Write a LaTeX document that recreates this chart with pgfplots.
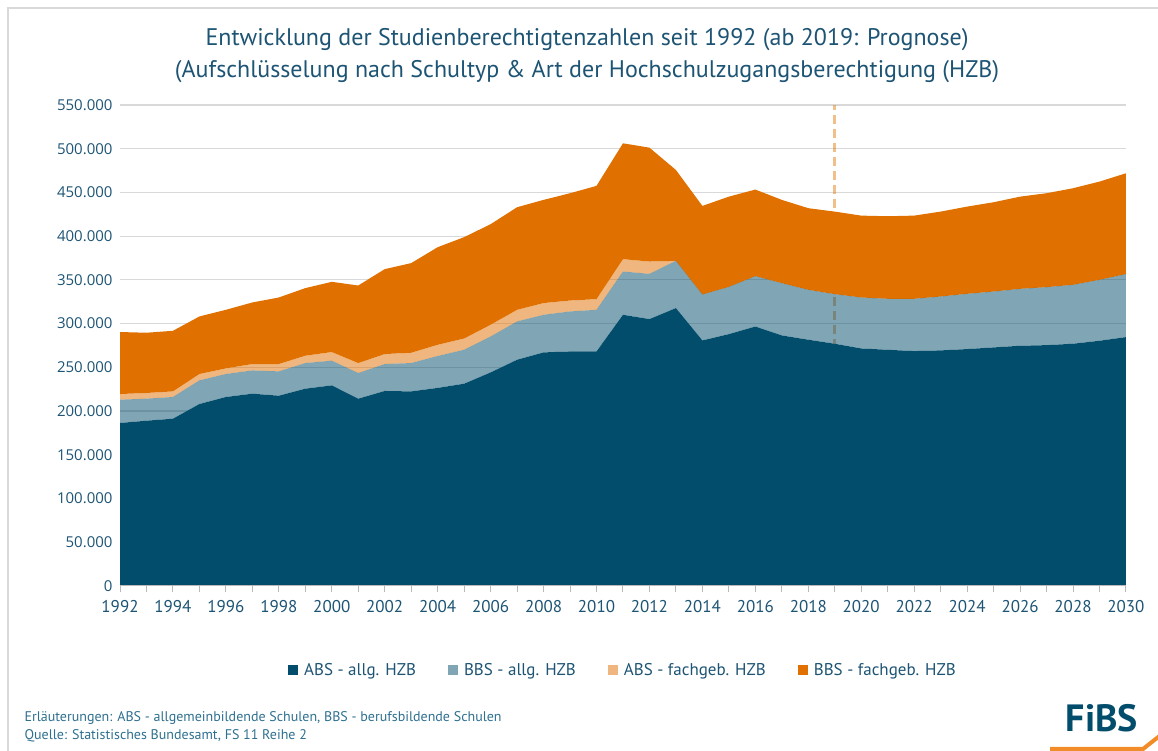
\documentclass[border=0pt]{standalone}
\usepackage{fontspec}
\setmainfont{PT Sans}
\newfontfamily\tickfont{Open Sans}
\usepackage{pgfplots}
\usepackage{pgfplotstable}
\pgfplotsset{compat=1.18}

\definecolor{absallg}{HTML}{024D6C}
\definecolor{bbsfach}{HTML}{E07000}
\definecolor{txt}{HTML}{1D5474}
\definecolor{foot}{HTML}{2E7090}
\definecolor{gridc}{HTML}{D9D9D9}
\definecolor{logoor}{HTML}{F28C28}

% Studienberechtigte nach Schultyp und HZB (ab 2019 Prognose)
\pgfplotstableread{
year absallg bbsallg absfach bbsfach
1992 186400 26600 6500 70900
1993 189000 25200 6500 68900
1994 191300 24800 6400 69300
1995 208100 27000 7300 65800
1996 216100 26300 6400 67000
1997 219900 26600 7300 70400
1998 217600 27800 8400 76100
1999 225600 29300 8400 77300
2000 229400 28200 9900 80300
2001 214200 29300 11400 88700
2002 223000 30800 11400 97100
2003 222500 32400 11800 102500
2004 226500 36500 12800 111600
2005 231300 38800 12900 115900
2006 244200 41100 13400 115000
2007 258700 43800 13300 117300
2008 267100 43000 13400 118000
2009 268200 45700 12500 122700
2010 268200 47600 12200 129500
2011 310100 49500 14100 132500
2012 305200 51700 14100 130200
2013 317800 54000 0 103900
2014 280800 52500 0 101300
2015 288000 54000 0 103200
2016 296700 57600 0 99000
2017 286500 59800 0 95200
2018 281600 57100 0 93300
2019 277000 56700 0 94400
2020 271600 58300 0 93600
2021 270100 58300 0 94400
2022 268600 59800 0 95100
2023 269400 61600 0 97100
2024 270900 63200 0 99700
2025 272800 63900 0 102100
2026 274700 65100 0 105400
2027 275400 66300 0 107400
2028 277000 67400 0 110400
2029 280400 69700 0 112300
2030 284600 72000 0 115300
}\datatable

\begin{document}
\begin{tikzpicture}[x=1pt,y=1pt]
\useasboundingbox (0,0) rectangle (1158,751);
\draw[gridc, line width=1.5pt] (8,0) -- (8,743) -- (1158,743);

% Gitterlinien (alle 50.000) unter den Flaechen: 481pt entsprechen 550.000
\foreach \k in {1,...,11}
  \draw[gridc, line width=1.2pt] (120,165+\k*43.7273) -- (1126,165+\k*43.7273);

\node[txt, font=\fontsize{24}{28}\selectfont] at (587,711)
  {Entwicklung der Studienberechtigtenzahlen seit 1992 (ab 2019: Prognose)};
\node[txt, font=\fontsize{24}{28}\selectfont] at (587,679)
  {(Aufschlüsselung nach Schultyp \& Art der Hochschulzugangsberechtigung (HZB)};

\begin{axis}[
    at={(120pt,165pt)}, anchor=south west,
    scale only axis, width=1006pt, height=481pt,
    xmin=1992, xmax=2030, ymin=0, ymax=550000,
    stack plots=y,
    area style,
    axis lines=left,
    axis line style={-},
    y axis line style={draw=none},
    x axis line style={draw=gray!55, line width=1pt},
    xtick={1992,1994,...,2030},
    minor xtick={1993,1995,...,2029},
    ytick={0,50000,100000,150000,200000,250000,300000,350000,400000,450000,500000,550000},
    tick align=outside,
    major tick length=6pt, minor tick length=6pt,
    xtick style={draw=gray!55, line width=1pt},
    minor tick style={draw=gray!55, line width=1pt},
    ytick style={draw=none},
    scaled y ticks=false,
    /pgf/number format/assume math mode=true,
    xticklabel style={font=\fontsize{17}{17}\selectfont, text=txt, yshift=-5pt,
        /pgf/number format/1000 sep={}},
    yticklabel style={font=\tickfont\fontsize{15}{15}\selectfont, text=txt, xshift=2pt,
        /pgf/number format/.cd, fixed, 1000 sep={.}},
    legend style={at={(0.5,-0.175)}, anchor=center, draw=none, fill=none,
        font=\fontsize{17}{17}\selectfont, text=txt,
        legend columns=4,
        /tikz/every odd column/.append style={column sep=4pt},
        /tikz/every even column/.append style={column sep=30pt}},
    legend image code/.code={\fill[#1] (0pt,-5pt) rectangle (10pt,5pt);},
]
\addplot[fill=absallg, draw=none] table[x=year,y=absallg]{\datatable} \closedcycle;
\addplot[fill=absallg, fill opacity=0.5, draw=none] table[x=year,y=bbsallg]{\datatable} \closedcycle;
\addplot[fill=bbsfach, fill opacity=0.5, draw=none] table[x=year,y=absfach]{\datatable} \closedcycle;
\addplot[fill=bbsfach, draw=none] table[x=year,y=bbsfach]{\datatable} \closedcycle;
\legend{ABS - allg. HZB, BBS - allg. HZB, ABS - fachgeb. HZB, BBS - fachgeb. HZB}
\draw[bbsfach, opacity=0.45, line width=3pt, dash pattern=on 9pt off 5pt]
  (axis cs:2019,0) -- (axis cs:2019,550000);
\end{axis}

\node[foot, anchor=west, font=\fontsize{14}{14}\selectfont] at (21,33)
  {Erläuterungen: ABS - allgemeinbildende Schulen, BBS - berufsbildende Schulen};
\node[foot, anchor=west, font=\fontsize{14}{14}\selectfont] at (21,15)
  {Quelle: Statistisches Bundesamt, FS 11 Reihe 2};

\node[text=absallg, font=\fontsize{38}{38}\selectfont\bfseries] at (1102,33) {FiBS};
\draw[logoor, line width=4pt] (1050,2) -- (1143,2) -- (1162,17);
\end{tikzpicture}
\end{document}
